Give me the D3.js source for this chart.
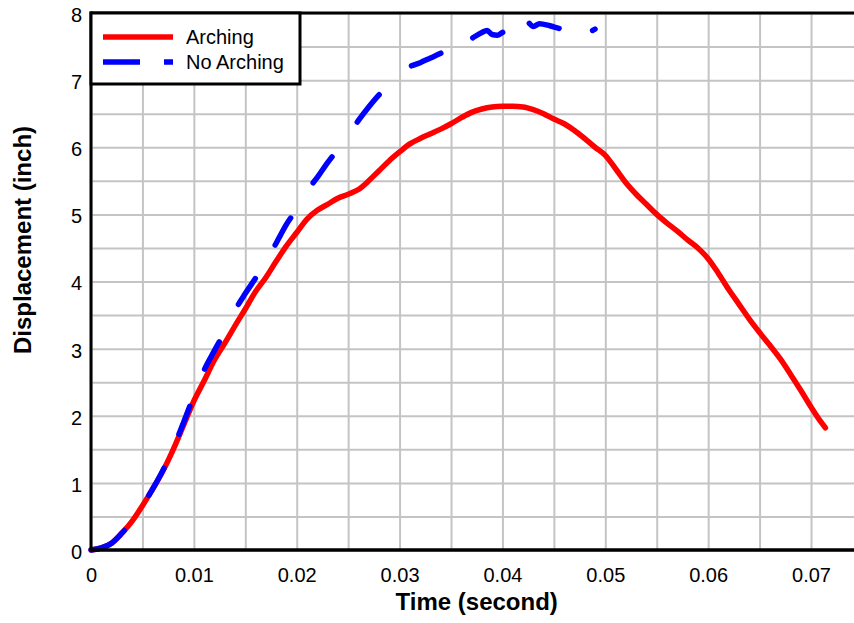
<!DOCTYPE html>
<html>
<head>
<meta charset="utf-8">
<script src="https://cdn.jsdelivr.net/npm/d3@7"></script>
<style>
  html, body { margin: 0; padding: 0; background: #fff; }
  svg { display: block; font-family: "Liberation Sans", Arial, sans-serif; }
</style>
</head>
<body>
<svg id="chart" width="854" height="623"></svg>
<script>
// ---- data ----
const archingTime = [0,0.001,0.002,0.003,0.004,0.005,0.006,0.007,0.008,0.009,0.010,0.011,0.012,0.013,0.014,0.015,0.016,0.017,0.018,0.019,0.020,0.021,0.022,0.023,0.024,0.025,0.026,0.027,0.028,0.029,0.030,0.031,0.032,0.033,0.034,0.035,0.036,0.037,0.038,0.039,0.040,0.041,0.042,0.043,0.044,0.045,0.046,0.047,0.048,0.049,0.050,0.051,0.052,0.053,0.054,0.055,0.056,0.057,0.058,0.059,0.060,0.061,0.062,0.063,0.064,0.065,0.066,0.067,0.068,0.069,0.070,0.071,0.0714];
const archingDisp = [0,0.03,0.1,0.25,0.43,0.66,0.91,1.18,1.5,1.86,2.22,2.52,2.83,3.08,3.34,3.59,3.85,4.06,4.3,4.53,4.73,4.93,5.06,5.15,5.24,5.3,5.37,5.5,5.65,5.8,5.93,6.05,6.13,6.2,6.27,6.35,6.44,6.52,6.57,6.6,6.61,6.61,6.6,6.56,6.5,6.42,6.35,6.25,6.13,6.0,5.88,5.68,5.47,5.3,5.15,5.0,4.87,4.75,4.62,4.5,4.34,4.12,3.88,3.66,3.44,3.24,3.05,2.85,2.62,2.38,2.13,1.9,1.82];

const noArchingTime = [0,0.001,0.002,0.003,0.004,0.005,0.006,0.007,0.008,0.009,0.010,0.011,0.012,0.013,0.014,0.015,0.016,0.017,0.018,0.019,0.020,0.021,0.022,0.023,0.024,0.025,0.026,0.027,0.028,0.029,0.030,0.031,0.032,0.033,0.034,0.035,0.036,0.037,0.038,0.0385,0.039,0.0395,0.040,0.041,0.042,0.0423,0.043,0.0436,0.0446,0.0455,0.047,0.0483,0.049];
const noArchingDisp = [0,0.03,0.1,0.25,0.43,0.66,0.91,1.19,1.52,1.9,2.3,2.68,2.97,3.25,3.57,3.82,4.05,4.3,4.57,4.85,5.08,5.35,5.55,5.77,5.97,6.18,6.4,6.6,6.78,6.93,7.08,7.2,7.26,7.33,7.4,7.48,7.54,7.62,7.71,7.74,7.68,7.67,7.71,7.75,7.82,7.88,7.8,7.84,7.81,7.77,7.73,7.72,7.76];

const xTickLabels = [0,0.01,0.02,0.03,0.04,0.05,0.06,0.07];
const yTickLabels = [0,1,2,3,4,5,6,7,8];
const seriesNames = ["Arching", "No Arching"];

// ---- layout ----
const svg = d3.select("#chart");
const pLeft = 91, pTop = 13, pBottom = 550;
const x = d3.scaleLinear().domain([0, 0.075]).range([pLeft, pLeft + 0.075 * 10286]);
const y = d3.scaleLinear().domain([0, 8]).range([pBottom, pTop]);
const pRight = x.range()[1];

// gridlines
const gx = d3.range(0, 0.0751, 0.005);
const gy = d3.range(0, 8.01, 0.5);
svg.append("g")
  .attr("transform", `translate(0,${pBottom})`)
  .call(d3.axisBottom(x).tickValues(gx).tickSize(-(pBottom - pTop)).tickFormat(""))
  .call(g => g.select(".domain").remove())
  .call(g => g.selectAll("line").attr("stroke", "#c4c4c4").attr("stroke-width", 2));
svg.append("g")
  .attr("transform", `translate(${pLeft},0)`)
  .call(d3.axisLeft(y).tickValues(gy).tickSize(-(pRight - pLeft)).tickFormat(""))
  .call(g => g.select(".domain").remove())
  .call(g => g.selectAll("line").attr("stroke", "#c4c4c4").attr("stroke-width", 2));

// top frame line
svg.append("line").attr("x1", pLeft).attr("x2", pRight).attr("y1", pTop).attr("y2", pTop)
  .attr("stroke", "#000").attr("stroke-width", 3);

// x axis labels
svg.append("g")
  .attr("transform", `translate(0,${pBottom})`)
  .call(d3.axisBottom(x).tickValues(xTickLabels).tickSize(0).tickPadding(0)
    .tickFormat(d => d === 0 ? "0" : d3.format(".2f")(d)))
  .call(g => g.select(".domain").remove())
  .call(g => g.selectAll("text").attr("y", 32).attr("dy", 0)
    .attr("font-size", 20).attr("fill", "#000")
    .attr("font-family", "Liberation Sans, Arial, sans-serif"));

// y axis labels
svg.append("g")
  .attr("transform", `translate(${pLeft},0)`)
  .call(d3.axisLeft(y).tickValues(yTickLabels).tickSize(0).tickPadding(9).tickFormat(d3.format("d")))
  .call(g => g.select(".domain").remove())
  .call(g => g.selectAll("text").attr("dy", "0.42em")
    .attr("font-size", 20).attr("fill", "#000")
    .attr("font-family", "Liberation Sans, Arial, sans-serif"));

// lines
const arching = archingTime.map((t, i) => [t, archingDisp[i]]);
const noArching = noArchingTime.map((t, i) => [t, noArchingDisp[i]]);
const line = d3.line().x(d => x(d[0])).y(d => y(d[1])).curve(d3.curveMonotoneX);

svg.append("path").datum(arching).attr("d", line)
  .attr("fill", "none").attr("stroke", "#ff0000").attr("stroke-width", 5.5)
  .attr("stroke-linejoin", "round").attr("stroke-linecap", "round");
svg.append("path").datum(noArching).attr("d", line)
  .attr("fill", "none").attr("stroke", "#0000ff").attr("stroke-width", 5.5)
  .attr("stroke-linejoin", "round").attr("stroke-linecap", "round")
  .attr("stroke-dasharray", "40,43,31,37,30,40,31,42,31,39,31,42,32,43,35,43.5,32,35.5,34,31,32,34,3,200");

// axes frame (left + bottom)
svg.append("line").attr("x1", pLeft).attr("x2", pLeft).attr("y1", pTop - 1.5).attr("y2", pBottom + 1.5)
  .attr("stroke", "#000").attr("stroke-width", 3);
svg.append("line").attr("x1", pLeft - 1.5).attr("x2", pRight).attr("y1", pBottom).attr("y2", pBottom)
  .attr("stroke", "#000").attr("stroke-width", 3.5);

// axis titles
svg.append("text").attr("x", (pLeft + pRight) / 2).attr("y", 610)
  .attr("text-anchor", "middle").attr("font-weight", "bold").attr("font-size", 24)
  .text("Time (second)");
svg.append("text").attr("transform", "translate(31,240) rotate(-90)")
  .attr("text-anchor", "middle").attr("font-weight", "bold").attr("font-size", 24)
  .text("Displacement (inch)");

// legend
const lg = svg.append("g");
lg.append("rect").attr("x", pLeft).attr("y", pTop).attr("width", 300 - pLeft).attr("height", 84 - pTop)
  .attr("fill", "#fff").attr("stroke", "#000").attr("stroke-width", 3);
const legendRows = [
  { name: seriesNames[0], color: "#ff0000", dash: null, yy: 37 },
  { name: seriesNames[1], color: "#0000ff", dash: "37,24,9,200", yy: 62 }
];
legendRows.forEach(r => {
  const l = lg.append("line").attr("x1", 103).attr("x2", 173).attr("y1", r.yy).attr("y2", r.yy)
    .attr("stroke", r.color).attr("stroke-width", 5.5);
  if (r.dash) l.attr("stroke-dasharray", r.dash);
  lg.append("text").attr("x", 186).attr("y", r.yy).attr("dy", "0.36em")
    .attr("font-size", 20).attr("fill", "#000").text(r.name);
});
</script>
</body>
</html>
